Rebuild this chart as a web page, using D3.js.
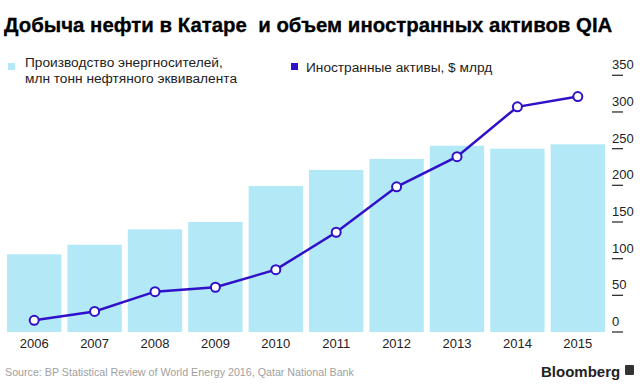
<!DOCTYPE html>
<html>
<head>
<meta charset="utf-8">
<script src="https://cdn.jsdelivr.net/npm/d3@7"></script>
<style>
  body { margin: 0; background: #fff; }
  svg { display: block; font-family: "Liberation Sans", Arial, sans-serif; }
</style>
</head>
<body>
<div class="chart"></div>
<script>
const width = 640
const height = 386

// data
const years = ["2006", "2007", "2008", "2009", "2010", "2011", "2012", "2013", "2014", "2015"]
const production = [106, 119, 140, 150, 199, 221, 236, 254, 250, 256]
const assets = [16, 28, 55, 61, 85, 136, 198, 239, 307, 321]
const yTicks = [0, 50, 100, 150, 200, 250, 300, 350]

const barColor = "#b3e9f6"
const lineColor = "#3010c8"

const svg = d3.create("svg")
  .attr("width", width)
  .attr("height", height)

const x = d3.scaleBand()
  .domain(years)
  .range([4, 608])
  .paddingInner(0.1)
  .paddingOuter(0.05)

const y = d3.scaleLinear()
  .domain([0, 350])
  .range([332, 75.3])

// bars
svg.append("g")
  .selectAll("rect")
  .data(years)
  .join("rect")
  .attr("x", d => x(d))
  .attr("y", (d, i) => y(production[i]))
  .attr("width", x.bandwidth())
  .attr("height", (d, i) => y(0) - y(production[i]))
  .attr("fill", barColor)

// line
const line = d3.line()
  .x((d, i) => x(years[i]) + x.bandwidth() / 2)
  .y(d => y(d))

svg.append("path")
  .datum(assets)
  .attr("d", line)
  .attr("fill", "none")
  .attr("stroke", lineColor)
  .attr("stroke-width", 2.5)

svg.append("g")
  .selectAll("circle")
  .data(assets)
  .join("circle")
  .attr("cx", (d, i) => x(years[i]) + x.bandwidth() / 2)
  .attr("cy", d => y(d))
  .attr("r", 4.5)
  .attr("fill", "#fff")
  .attr("stroke", lineColor)
  .attr("stroke-width", 2)

// right axis: label sits above a short dash
const yAxis = svg.append("g")
  .selectAll("g")
  .data(yTicks)
  .join("g")
  .attr("transform", d => `translate(612, ${y(d)})`)

yAxis.append("line")
  .attr("x1", 0).attr("x2", 11)
  .attr("stroke", "#333")
  .attr("stroke-width", 1.3)

yAxis.append("text")
  .attr("y", -6)
  .style("font-size", "13px")
  .attr("fill", "#222")
  .text(d => d)

// x labels
svg.append("g")
  .selectAll("text")
  .data(years)
  .join("text")
  .attr("x", d => x(d) + x.bandwidth() / 2)
  .attr("y", 348)
  .attr("text-anchor", "middle")
  .style("font-size", "13px")
  .attr("fill", "#222")
  .text(d => d)

// title
svg.append("text")
  .attr("x", 4)
  .attr("y", 32)
  .style("font", "bold 20.4px 'Liberation Sans', Arial, sans-serif")
  .attr("fill", "#000")
  .attr("stroke", "#000")
  .attr("stroke-width", 0.3)
  .attr("xml:space", "preserve")
  .text("Добыча нефти в Катаре  и объем иностранных активов QIA")

// legend
svg.append("rect")
  .attr("x", 8).attr("y", 63)
  .attr("width", 7).attr("height", 7)
  .attr("fill", barColor)

svg.append("text")
  .attr("x", 25).attr("y", 67)
  .style("font-size", "13.7px")
  .attr("fill", "#222")
  .text("Производство энергносителей,")

svg.append("text")
  .attr("x", 25).attr("y", 83)
  .style("font-size", "13.7px")
  .attr("fill", "#222")
  .text("млн тонн нефтяного эквивалента")

svg.append("rect")
  .attr("x", 291).attr("y", 63)
  .attr("width", 7).attr("height", 7)
  .attr("fill", lineColor)

svg.append("text")
  .attr("x", 306).attr("y", 72)
  .style("font-size", "13.7px")
  .attr("fill", "#222")
  .text("Иностранные активы, $ млрд")

// footer
svg.append("text")
  .attr("x", 5).attr("y", 376)
  .style("font-size", "10.7px")
  .attr("fill", "#a0a0a0")
  .text("Source: BP Statistical Review of World Energy 2016, Qatar National Bank")

svg.append("text")
  .attr("x", 541).attr("y", 377)
  .style("font", "bold 15px 'Liberation Sans', Arial, sans-serif")
  .attr("fill", "#222")
  .text("Bloomberg")

svg.append("rect")
  .attr("x", 625).attr("y", 365)
  .attr("width", 9).attr("height", 10)
  .attr("rx", 1)
  .attr("fill", "#333")

document.querySelector(".chart").append(svg.node())
</script>
</body>
</html>
